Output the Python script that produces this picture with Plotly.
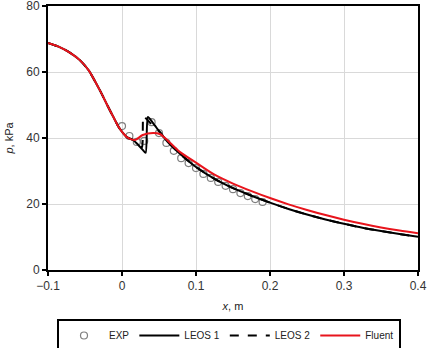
import plotly.graph_objects as go

# EXP data
exp_x = [0.0, 0.01, 0.02, 0.03, 0.04, 0.05, 0.06, 0.07, 0.08, 0.09,
         0.10, 0.11, 0.12, 0.13, 0.14, 0.15, 0.16, 0.17, 0.18, 0.19]
exp_p = [43.6, 40.6, 38.8, 39.1, 44.8, 41.5, 38.5, 36.1, 33.9, 32.4,
         30.9, 29.1, 27.9, 26.7, 25.5, 24.5, 23.3, 22.4, 21.5, 20.6]

# Fluent
fl_x = [-0.1, -0.085, -0.07, -0.057, -0.045, -0.03, -0.02, -0.012, -0.005, 0.0014,
        0.007, 0.0176, 0.028, 0.042, 0.051, 0.061, 0.078, 0.101, 0.125, 0.15,
        0.175, 0.2, 0.225, 0.25, 0.275, 0.3, 0.325, 0.35, 0.375, 0.4]
fl_p = [68.8, 67.6, 65.8, 63.6, 60.5, 54.5, 50.0, 46.5, 43.5, 41.5,
        40.2, 39.4, 40.9, 41.5, 41.2, 39.4, 35.8, 32.4, 28.9, 26.2,
        23.9, 21.8, 19.9, 18.2, 16.65, 15.25, 14.0, 12.9, 11.95, 11.1]

# LEOS 1
l1_x = [-0.1, -0.085, -0.07, -0.057, -0.045, -0.03, -0.02, -0.012, -0.005, 0.0014,
        0.007, 0.015, 0.022, 0.028, 0.032, 0.035, 0.042, 0.051, 0.061, 0.078,
        0.1, 0.125, 0.15, 0.175, 0.2, 0.225, 0.25, 0.275, 0.3, 0.325, 0.35, 0.375, 0.4]
l1_p = [68.8, 67.6, 65.8, 63.6, 60.5, 54.5, 50.0, 46.5, 43.5, 41.5,
        40.2, 39.4, 37.9, 36.4, 35.5, 46.4, 44.5, 41.8, 39.0, 35.3,
        31.2, 27.6, 24.8, 22.5, 20.4, 18.5, 16.8, 15.3, 14.0, 12.8, 11.8, 10.9, 10.1]

# LEOS 2
l2_x = [-0.1, -0.085, -0.07, -0.057, -0.045, -0.03, -0.02, -0.012, -0.005, 0.0014,
        0.007, 0.015, 0.022, 0.027, 0.029, 0.033, 0.038, 0.045, 0.051, 0.061, 0.078,
        0.1, 0.125, 0.15, 0.175, 0.2, 0.225, 0.25, 0.275, 0.3, 0.325, 0.35, 0.375, 0.4]
l2_p = [68.8, 67.6, 65.8, 63.6, 60.5, 54.5, 50.0, 46.5, 43.5, 41.5,
        40.2, 39.4, 38.2, 37.2, 46.8, 45.8, 44.6, 43.0, 41.8, 39.0, 35.3,
        31.2, 27.6, 24.8, 22.5, 20.4, 18.5, 16.8, 15.3, 14.0, 12.8, 11.8, 10.9, 10.1]

fig = go.Figure()
fig.add_trace(go.Scatter(x=exp_x, y=exp_p, mode="markers", name="EXP",
                         marker=dict(symbol="circle-open", size=7, color="#7f7f7f",
                                     line=dict(width=1.2, color="#7f7f7f"))))
fig.add_trace(go.Scatter(x=l1_x, y=l1_p, mode="lines", name="LEOS 1",
                         line=dict(color="black", width=2, shape="spline", smoothing=0.6)))
fig.add_trace(go.Scatter(x=l2_x, y=l2_p, mode="lines", name="LEOS 2",
                         line=dict(color="black", width=2, dash="dash", shape="spline", smoothing=0.6)))
fig.add_trace(go.Scatter(x=fl_x, y=fl_p, mode="lines", name="Fluent",
                         line=dict(color="#e8141c", width=2, shape="spline", smoothing=0.8)))

axis_common = dict(showline=True, linecolor="black", linewidth=2, mirror=True,
                   ticks="outside", ticklen=4, tickwidth=2, tickcolor="black",
                   showgrid=True, gridcolor="#d9d9d9", gridwidth=1, zeroline=False,
                   automargin=False, ticklabeloverflow="allow",
                   tickfont=dict(size=12, color="#333"))

fig.update_layout(
    width=429, height=348,
    margin=dict(l=48, r=11, t=6, b=78, autoexpand=False),
    paper_bgcolor="white", plot_bgcolor="white",
    font=dict(family="Liberation Sans, Arial, sans-serif", size=12, color="#222"),
    xaxis=dict(range=[-0.1, 0.4], dtick=0.1, tick0=-0.1,
               title=dict(text="<i>x</i>, m", standoff=10, font=dict(size=11)),
               **axis_common),
    yaxis=dict(range=[0, 80], dtick=20,
               title=dict(text="<i>p</i>, kPa", standoff=10, font=dict(size=11)),
               **axis_common),
    legend=dict(orientation="h", xref="container", x=57 / 429, xanchor="left",
                yref="container", y=1 - 319 / 348, yanchor="top",
                bordercolor="black", borderwidth=2, font=dict(size=10),
                itemwidth=40, tracegroupgap=0),
    showlegend=True,
)

fig.write_html("out.html", config={"displayModeBar": False},
               post_script="document.body.style.margin='0px';")
